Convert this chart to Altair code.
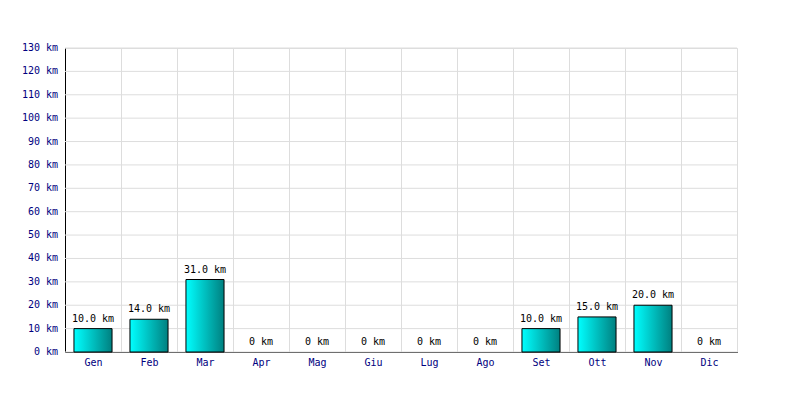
import altair as alt
import pandas as pd

months = ["Gen", "Feb", "Mar", "Apr", "Mag", "Giu", "Lug", "Ago", "Set", "Ott", "Nov", "Dic"]
km = [10, 14, 31, 0, 0, 0, 0, 0, 10, 15, 20, 0]
y_ticks = list(range(0, 131, 10))

df = pd.DataFrame({"mese": months, "km": km})
df["label"] = [f"{v:.1f} km" if v else "0 km" for v in km]
ticks_df = pd.DataFrame({"km": y_ticks})
ticks_df["tlabel"] = [f"{v} km" for v in y_ticks]

FONT = "DejaVu Sans Mono"
NAVY = "#000080"

x = alt.X(
    "mese:N",
    sort=months,
    title=None,
    scale=alt.Scale(paddingInner=0, paddingOuter=0),
    axis=alt.Axis(
        labelAngle=0, ticks=False, tickBand="extent", grid=True, gridColor="#dddddd",
        domainColor="black", labelColor=NAVY, labelFont=FONT, labelFontSize=10,
        labelPadding=5,
    ),
)
y = alt.Y(
    "km:Q",
    title=None,
    scale=alt.Scale(domain=[0, 130], nice=False),
    axis=alt.Axis(
        values=y_ticks, ticks=False, grid=False, labels=False,
        domainColor="black",
    ),
)

grad = alt.LinearGradient(
    gradient="linear",
    stops=[alt.GradientStop(color="#00ffff", offset=0), alt.GradientStop(color="#008080", offset=1)],
    x1=0, x2=1, y1=0, y2=0,
)

grid = alt.Chart(ticks_df).mark_rule(color="#dddddd", strokeWidth=1).encode(y=y)

ylabels = alt.Chart(ticks_df).mark_text(
    font=FONT, fontSize=10, color=NAVY, align="right", baseline="middle"
).encode(y=y, x=alt.value(-7), text="tlabel:N")

bars = alt.Chart(df).transform_filter("datum.km > 0").mark_bar(
    color=grad, stroke="black", strokeWidth=1, width=alt.RelativeBandSize(0.68)
).encode(x=x, y=y)

text = alt.Chart(df).mark_text(
    font=FONT, fontSize=10, color="black", baseline="bottom", dy=-5
).encode(x=x, y=y, text="label:N")

chart = alt.layer(grid, bars, text, ylabels).properties(
    width=672, height=304,
    autosize=alt.AutoSizeParams(type="none"),
    padding={"left": 57, "top": 40, "right": 40, "bottom": 30},
).configure_view(stroke="#dddddd")

chart.save("out.html", embed_options={"renderer": "svg", "actions": False})
